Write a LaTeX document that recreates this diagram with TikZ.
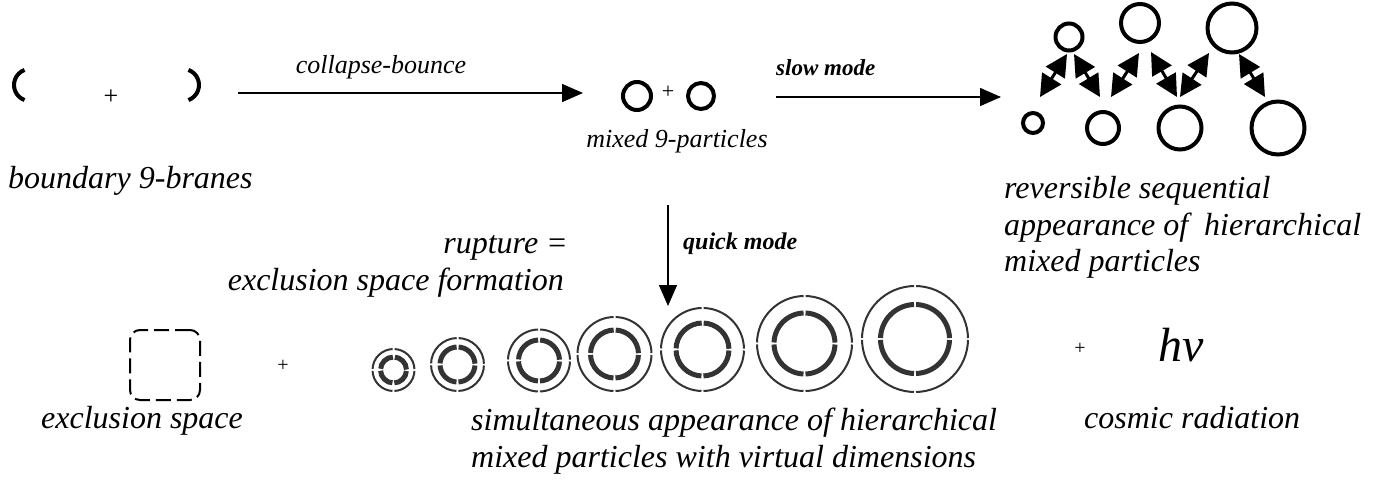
\documentclass[tikz,border=0pt]{standalone}
\usepackage{fontspec}
\setmainfont{Liberation Serif}
\usetikzlibrary{arrows.meta}
\tikzset{
  lbl/.style={font=\fontsize{32}{38}\selectfont\itshape, inner sep=0pt},
  sml/.style={font=\fontsize{26}{30}\selectfont\itshape, inner sep=0pt},
  bld/.style={font=\fontsize{24}{30}\selectfont\bfseries\itshape, inner sep=0pt},
  plussign/.style={font=\fontsize{26}{28}\selectfont, inner sep=0pt},
  brane/.style={line width=4pt},
  part/.style={circle, draw, line width=4pt, inner sep=0pt},
  flow/.style={line width=1.5pt, -{Triangle[length=21pt,width=18pt]}},
  dbl/.style={line width=3pt, {Triangle[length=22pt,width=22pt]}-{Triangle[length=22pt,width=22pt]}},
  ringo/.style={draw=black!80, line width=2pt},
  ringi/.style={draw=black!80, line width=5pt},
  exsp/.style={draw, line width=2pt, rounded corners=10pt, dash pattern=on 15pt off 6pt},
}
\newcommand\ringpair[4]{%
  \pgfmathsetmacro\rngLo{pi*#3/2-2}%
  \pgfmathsetmacro\rngPo{\rngLo+1}%
  \pgfmathsetmacro\rngLi{pi*#4/2-2}%
  \pgfmathsetmacro\rngPi{\rngLi+1}%
  \draw[ringo, dash pattern=on \rngLo pt off 2pt, dash phase=\rngPo pt] (#1,#2) circle[radius=#3];
  \draw[ringi, dash pattern=on \rngLi pt off 2pt, dash phase=\rngPi pt] (#1,#2) circle[radius=#4];
}
\begin{document}
\begin{tikzpicture}[x=1pt,y=-1pt]
\useasboundingbox (0,0) rectangle (1390,487);

% boundary 9-branes
\draw[brane] ([shift={(110:16)}]30,85) arc[start angle=110,end angle=250,radius=16];
\node[plussign] (plus1) at (111,97) {+};
\draw[brane] ([shift={(-70:16)}]183,85) arc[start angle=-70,end angle=70,radius=16];
\node[lbl, anchor=base west] (bbr) at (8,188) {boundary 9-branes};

% collapse-bounce
\coordinate (cbS) at (238,93);
\coordinate (cbE) at (583,93);
\draw[flow] (cbS) -- (cbE);
\node[lbl, font=\fontsize{26}{30}\selectfont\itshape, anchor=base] (cbl) at (381,74) {collapse-bounce};

% mixed 9-particles
\node[part, minimum size=28pt] (p1) at (637,96) {};
\node[plussign, font=\fontsize{22}{24}\selectfont] (plus2) at (668,92) {+};
\node[part, minimum size=26pt] (p2) at (701,96) {};
\node[sml, anchor=base] (m9p) at (677,147) {mixed 9-particles};

% slow mode
\coordinate (smS) at (776,97);
\coordinate (smE) at (1001,97);
\draw[flow] (smS) -- (smE);
\node[bld, font=\fontsize{23}{28}\selectfont\bfseries\itshape, anchor=base west] (sml) at (776,75) {slow mode};

% hierarchical cluster
\node[part, minimum size=27pt] (c1) at (1069,37) {};
\node[part, minimum size=38pt] (c2) at (1140,23) {};
\node[part, minimum size=49pt] (c3) at (1232,28) {};
\node[part, minimum size=20pt] (b1) at (1033,123) {};
\node[part, minimum size=32pt] (b2) at (1103,128) {};
\node[part, minimum size=43pt] (b3) at (1180,128) {};
\node[part, minimum size=53pt] (b4) at (1278,128) {};
\coordinate (a1s) at (1067,54);  \coordinate (a1e) at (1040,97);
\coordinate (a2s) at (1074,54);  \coordinate (a2e) at (1100,97);
\coordinate (a3s) at (1139,53);  \coordinate (a3e) at (1111,97);
\coordinate (a4s) at (1151,52);  \coordinate (a4e) at (1177,97);
\coordinate (a5s) at (1209,53);  \coordinate (a5e) at (1180,97);
\coordinate (a6s) at (1239,54);  \coordinate (a6e) at (1265,97);
\draw[dbl] (a1s) -- (a1e);
\draw[dbl] (a2s) -- (a2e);
\draw[dbl] (a3s) -- (a3e);
\draw[dbl] (a4s) -- (a4e);
\draw[dbl] (a5s) -- (a5e);
\draw[dbl] (a6s) -- (a6e);
\node[lbl, anchor=base west] (rs1) at (1004,198) {reversible sequential};
\node[lbl, anchor=base west] (rs2) at (1004,235) {appearance of \ hierarchical};
\node[lbl, anchor=base west] (rs3) at (1004,271) {mixed particles};

% quick mode
\coordinate (qmS) at (668,205);
\coordinate (qmE) at (668,306);
\draw[flow] (qmS) -- (qmE);
\node[bld, anchor=base west] (qml) at (683,249) {quick mode};
\node[lbl, anchor=base east] (rup1) at (568,253) {rupture =};
\node[lbl, anchor=base east] (rup2) at (564,290) {exclusion space formation};

% bottom row
\node[exsp, minimum width=70pt, minimum height=70pt] (ex) at (165,365) {};
\node[lbl, anchor=base] (exl) at (142,428) {exclusion space};
\node[plussign, font=\fontsize{20}{22}\selectfont] (plus3) at (283,366) {+};
\ringpair{393.5}{370}{21}{13}
\ringpair{457.5}{364.5}{26.5}{17.5}
\ringpair{539}{360.5}{31}{20.5}
\ringpair{614.5}{354}{37}{24}
\ringpair{702.5}{349.5}{41.5}{26.5}
\ringpair{804.5}{343.5}{47.5}{30.5}
\ringpair{915}{339}{53}{34.5}
\node[lbl, anchor=base west] (sim1) at (471,430) {simultaneous appearance of hierarchical};
\node[lbl, anchor=base west] (sim2) at (471,467) {mixed particles with virtual dimensions};
\node[plussign, font=\fontsize{20}{22}\selectfont] (plus4) at (1080,349) {+};
\node[inner sep=0pt, anchor=base west, font=\fontsize{48}{52}\selectfont\itshape] (hnu) at (1158,361) {hν};
\node[lbl, anchor=base west] (cr) at (1084,428) {cosmic radiation};
\end{tikzpicture}
\end{document}
